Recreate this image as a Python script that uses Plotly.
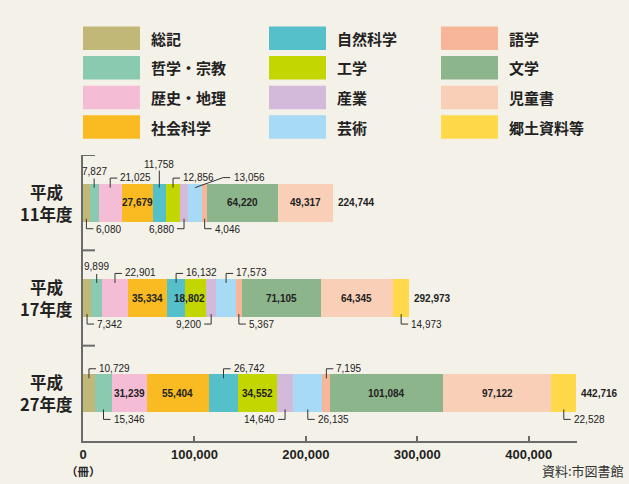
import plotly.graph_objects as go

# ── data ─────────────────────────────────────────────
YEARS = ["平成<br>11年度", "平成<br>17年度", "平成<br>27年度"]
CATEGORIES = ["総記", "哲学・宗教", "歴史・地理", "社会科学",
              "自然科学", "工学", "産業", "芸術",
              "語学", "文学", "児童書", "郷土資料等"]
H11 = [6080, 7827, 21025, 27679, 11758, 12856, 6880, 13056, 4046, 64220, 49317, 0]
H17 = [7342, 9899, 22901, 35334, 16132, 18802, 9200, 17573, 5367, 71105, 64345, 14973]
H27 = [10729, 15346, 31239, 55404, 26742, 34552, 14640, 26135, 7195, 101084, 97122, 22528]
XTICKS = [0, 100000, 200000, 300000, 400000]

COLORS = ["#C1B776", "#89CAB0", "#F5BCD5", "#F9BB21",
          "#55C0C9", "#C3D600", "#D3B9DA", "#A7DAF4",
          "#F7B699", "#8DB58B", "#F9CFB8", "#FFD94A"]

# where each value label goes (per year, per category)
PLACE = [
    ["dn", "upv", "up", "in", "upv2", "up", "dnl", "diag", "dn", "in", "in", None],
    ["dn", "upv", "up", "in", "up", "in", "dnl", "up", "dn", "in", "in", "dn"],
    ["up", "dn", "in", "in", "up", "in", "dnl", "dn", "up", "in", "in", "dn"],
]

BG = "#F4F1E9"
INK = "#222222"
AXIS = "#6B6B6B"
NUM_FONT = "Liberation Sans, Arial, sans-serif"
JP_FONT = "Noto Sans CJK JP, sans-serif"

W, H = 629, 484
ML, MR, MT, MB = 83, 52, 155, 43
PW, PH = W - ML - MR, H - MT - MB
XMAX = 443300


def px(p):   # pixels -> x data units
    return p * XMAX / PW


def py(p):   # pixels -> y data units
    return p * 3 / PH


def paper_x(p):
    return (p - ML) / PW


def paper_y(p):
    return (H - MB - p) / PH


series = [H11, H17, H27]

fig = go.Figure()
for k, cat in enumerate(CATEGORIES):
    fig.add_trace(go.Bar(
        x=[s[k] for s in series], y=[0, 1, 2], orientation="h",
        name=cat, width=0.4, marker=dict(color=COLORS[k], line=dict(width=0)),
        showlegend=False, hoverinfo="x+name",
    ))

shapes = []
annots = []
line_style = dict(color="#333333", width=1)

for i, vals in enumerate(series):
    top, bot = i - 0.2, i + 0.2
    cum = 0
    for k, v in enumerate(vals):
        x0 = cum
        cum += v
        place = PLACE[i][k]
        if place is None or v == 0:
            continue
        xc = x0 + v / 2
        label = f"{v:,}"
        if place == "in":
            shift = -6 if (i == 1 and k == 5) else 0
            annots.append(dict(x=xc, y=i, text=label, showarrow=False, xshift=shift,
                               font=dict(family=NUM_FONT, size=10, color=INK, weight="bold")))
            continue
        if place == "up":
            path = f"M {xc},{top + py(4)} V {top - py(5.5)} H {xc + px(7)}"
            a = dict(xshift=8, yshift=6, xanchor="left")
        elif place == "upv":
            path = f"M {xc},{top + py(4)} V {top - py(5)}"
            a = dict(xshift=0, yshift=12, xanchor="center")
        elif place == "upv2":
            path = f"M {xc},{top + py(4)} V {top - py(13)}"
            a = dict(xshift=0, yshift=19, xanchor="center")
        elif place == "diag":
            path = (f"M {xc},{top + py(4)} L {xc + px(28)},{top - py(6)} "
                    f"H {xc + px(35)}")
            a = dict(xshift=37, yshift=6, xanchor="left")
        elif place == "dn":
            path = f"M {xc},{bot - py(3)} V {bot + py(7)} H {xc + px(7)}"
            a = dict(xshift=8, yshift=-7.5, xanchor="left")
        else:  # dnl
            path = f"M {xc},{bot - py(3)} V {bot + py(7)} H {xc - px(7)}"
            a = dict(xshift=-8, yshift=-7.5, xanchor="right")
        yref_val = top if place in ("up", "upv", "upv2", "diag") else bot
        shapes.append(dict(type="path", path=path, xref="x", yref="y", line=line_style))
        annots.append(dict(x=xc, y=yref_val, text=label, showarrow=False,
                           yanchor="middle",
                           font=dict(family=NUM_FONT, size=10, color=INK), **a))
    # total
    annots.append(dict(x=cum, y=i, text=f"{cum:,}", showarrow=False, xanchor="left",
                       xshift=3, font=dict(family=NUM_FONT, size=10, color=INK, weight="bold")))
    # year label, one annotation per line
    for j, part in enumerate(YEARS[i].split("<br>")):
        annots.append(dict(x=paper_x(46), xref="paper", y=i, yref="y", text=part,
                           showarrow=False, xanchor="center", yanchor="middle",
                           yshift=11 - 22 * j, borderpad=0,
                           font=dict(family=JP_FONT, size=16.5, color=INK, weight="bold")))

# boundary ticks on the vertical axis
for yb in (-0.5, 0.5, 1.5):
    shapes.append(dict(type="line", xref="x", yref="y", x0=0, x1=px(12), y0=yb, y1=yb,
                       line=dict(color=AXIS, width=2)))

# legend (3 columns x 4 rows)
COL_X = [83, 269, 441]
for k, cat in enumerate(CATEGORIES):
    c, r = divmod(k, 4)
    x0 = COL_X[c]
    y0 = 26.5 + r * 29.6
    shapes.append(dict(type="rect", xref="paper", yref="paper",
                       x0=paper_x(x0), x1=paper_x(x0 + 57),
                       y0=paper_y(y0), y1=paper_y(y0 + 23.5),
                       fillcolor=COLORS[k], line=dict(width=0)))
    annots.append(dict(x=paper_x(x0 + 65.5), y=paper_y(y0 + 11.75), xref="paper", yref="paper",
                       text=cat, showarrow=False, xanchor="left", yanchor="middle",
                       font=dict(family=JP_FONT, size=15, color=INK, weight="bold")))

annots.append(dict(x=0, y=paper_y(471), xref="paper", yref="paper", text="（冊）",
                   showarrow=False, xanchor="center", yanchor="middle", borderpad=0,
                   font=dict(family=JP_FONT, size=11.5, color=INK, weight="bold")))
annots.append(dict(x=paper_x(626), y=paper_y(470), xref="paper", yref="paper",
                   text="資料:市図書館", showarrow=False, xanchor="right", yanchor="middle",
                   font=dict(family=JP_FONT, size=13, color="#333333")))

fig.update_layout(
    width=W, height=H, barmode="stack",
    margin=dict(l=ML, r=MR, t=MT, b=MB, pad=0),
    paper_bgcolor=BG, plot_bgcolor=BG,
    shapes=shapes, annotations=annots,
    xaxis=dict(range=[0, XMAX], tickvals=XTICKS, ticktext=[f"{t:,}" for t in XTICKS],
               showgrid=False, zeroline=False, showline=True, linecolor=AXIS, linewidth=2,
               ticks="inside", ticklen=5, tickwidth=1.5, tickcolor=AXIS,
               tickfont=dict(family=NUM_FONT, size=13, color=INK, weight="bold")),
    yaxis=dict(range=[2.5, -0.5], showgrid=False, zeroline=False, showline=True,
               linecolor=AXIS, linewidth=2, showticklabels=False, ticks=""),
)

# the page body has a default 8px margin; drop it so the figure sits at the corner
fig.write_html("out.html", config={"displayModeBar": False},
               post_script="document.body.style.margin='0';document.body.style.background='%s';" % BG)
